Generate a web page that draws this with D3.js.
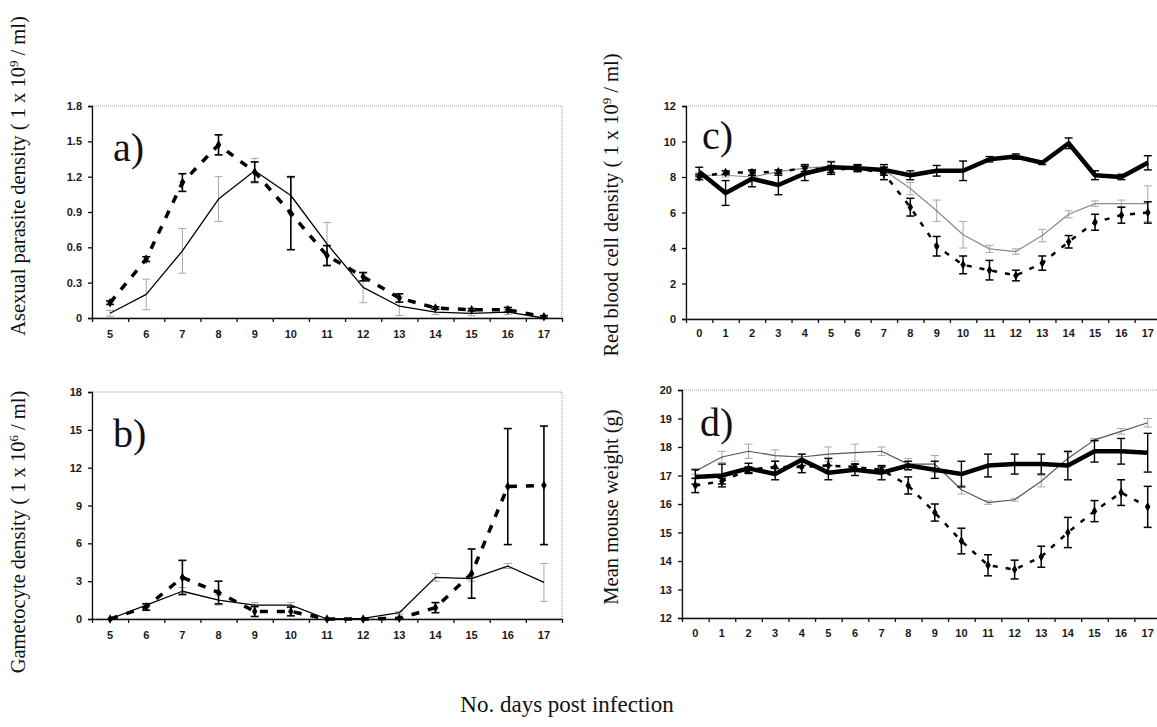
<!DOCTYPE html>
<html>
<head>
<meta charset="utf-8">
<script src="https://cdnjs.cloudflare.com/ajax/libs/d3/7.8.5/d3.min.js"></script>
<style>
  body { margin: 0; background: #fff; }
  svg { display: block; }
  .tick text { font-family: "Liberation Sans", Arial, sans-serif; font-weight: bold; font-size: 11px; fill: #1a1a1a; }
  .title { font-family: "Liberation Serif", "Times New Roman", serif; fill: #111; }
</style>
</head>
<body>
<svg id="fig" width="1157" height="727"></svg>
<script>
// days on the x axis
const daysAB = [5, 6, 7, 8, 9, 10, 11, 12, 13, 14, 15, 16, 17];
const daysCD = [0, 1, 2, 3, 4, 5, 6, 7, 8, 9, 10, 11, 12, 13, 14, 15, 16, 17];

// y tick labels
const aYTicks = [0, 0.3, 0.6, 0.9, 1.2, 1.5, 1.8];
const bYTicks = [0, 3, 6, 9, 12, 15, 18];
const cYTicks = [0, 2, 4, 6, 8, 10, 12];
const dYTicks = [12, 13, 14, 15, 16, 17, 18, 19, 20];

// a) asexual parasite density
const aDashed    = [0.13, 0.50, 1.15, 1.47, 1.24, 0.89, 0.53, 0.35, 0.17, 0.085, 0.07, 0.07, 0.01];
const aDashedErr = [0.015, 0.02, 0.075, 0.085, 0.085, 0.31, 0.085, 0.035, 0.035, 0.01, 0.01, 0.02, 0.01];
const aSolid     = [0.04, 0.20, 0.57, 1.01, 1.25, 1.04, 0.63, 0.26, 0.10, 0.05, 0.04, 0.05, 0.0];
const aSolidErr  = [0.025, 0.13, 0.19, 0.19, 0.105, 0.15, 0.18, 0.13, 0.08, 0.02, 0.02, 0.02, 0.01];

// b) gametocyte density
const bDashed    = [0, 0.95, 3.3, 2.1, 0.6, 0.6, 0, 0, 0.05, 0.9, 3.6, 10.5, 10.6];
const bDashedErr = [0, 0.25, 1.35, 0.9, 0.4, 0.35, 0, 0, 0.05, 0.4, 1.95, 4.6, 4.7];
const bSolid     = [0, 1.1, 2.2, 1.5, 1.1, 1.1, 0, 0.05, 0.5, 3.3, 3.2, 4.2, 2.9];
const bSolidErr  = [0, 0.15, 0.3, 0.4, 0.2, 0.2, 0, 0, 0.1, 0.3, 0.2, 0.2, 1.5];

// c) red blood cell density
const cThick     = [8.3, 7.1, 7.9, 7.55, 8.2, 8.55, 8.5, 8.4, 8.1, 8.35, 8.35, 9.0, 9.15, 8.8, 9.9, 8.1, 8.0, 8.8];
const cThickErr  = [0.25, 0.7, 0.45, 0.55, 0.4, 0.3, 0.2, 0.3, 0.25, 0.3, 0.55, 0.15, 0.15, 0.1, 0.3, 0.25, 0.15, 0.4];
const cThin      = [8.1, 8.1, 8.0, 8.3, 8.5, 8.6, 8.5, 8.4, 7.35, 6.1, 4.75, 3.95, 3.8, 4.7, 5.9, 6.5, 6.5, 6.5];
const cThinErr   = [0.15, 0.1, 0.1, 0.1, 0.15, 0.3, 0.2, 0.2, 0.35, 0.6, 0.75, 0.2, 0.15, 0.35, 0.2, 0.15, 0.2, 1.0];
const cDashed    = [8.0, 8.25, 8.25, 8.3, 8.5, 8.4, 8.5, 8.2, 6.3, 4.1, 3.05, 2.75, 2.45, 3.15, 4.35, 5.45, 5.85, 6.0];
const cDashedErr = [0.15, 0.1, 0.15, 0.1, 0.2, 0.25, 0.15, 0.35, 0.5, 0.55, 0.5, 0.55, 0.3, 0.4, 0.35, 0.45, 0.45, 0.6];

// d) mean mouse weight
const dThick     = [16.95, 17.0, 17.25, 17.05, 17.55, 17.1, 17.2, 17.1, 17.35, 17.2, 17.05, 17.35, 17.4, 17.4, 17.35, 17.85, 17.85, 17.8];
const dThickErr  = [0.25, 0.4, 0.18, 0.2, 0.2, 0.25, 0.2, 0.25, 0.15, 0.3, 0.45, 0.4, 0.35, 0.35, 0.5, 0.38, 0.45, 0.68];
const dThin      = [17.15, 17.65, 17.85, 17.7, 17.65, 17.75, 17.8, 17.85, 17.4, 17.4, 16.5, 16.05, 16.15, 16.8, 17.6, 18.25, 18.55, 18.85];
const dThinErr   = [0.1, 0.2, 0.25, 0.2, 0.1, 0.25, 0.3, 0.15, 0.2, 0.3, 0.15, 0.06, 0.05, 0.2, 0.2, 0.05, 0.1, 0.15];
const dDashed    = [16.65, 16.8, 17.2, 17.3, 17.3, 17.35, 17.3, 17.2, 16.65, 15.7, 14.7, 13.85, 13.7, 14.15, 15.0, 15.75, 16.4, 15.9];
const dDashedErr = [0.25, 0.1, 0.1, 0.2, 0.2, 0.25, 0.1, 0.1, 0.3, 0.3, 0.45, 0.37, 0.33, 0.37, 0.53, 0.37, 0.45, 0.72];

// line styles
const styles = {
  dashedAB: { stroke: "#000", width: 3.5, dash: "8,9", err: "#000", errW: 1.6, marker: true },
  solidAB:  { stroke: "#000", width: 1.3, dash: null, err: "#a8a8a8", errW: 1, marker: false },
  thick:    { stroke: "#000", width: 4.5, dash: null, err: "#000", errW: 1.4, marker: false },
  thinC:    { stroke: "#8a8a8a", width: 1.2, dash: null, err: "#a8a8a8", errW: 1, marker: false },
  thinD:    { stroke: "#555", width: 1.2, dash: null, err: "#a8a8a8", errW: 1, marker: false },
  dashedCD: { stroke: "#000", width: 2.5, dash: "5,8", err: "#000", errW: 1.5, marker: true }
};

const panels = [
  { left: 92, right: 562, top: 106, bottom: 318, days: daysAB, yTicks: aYTicks, fmt: d => d === 0 ? "0" : d.toFixed(1),
    letter: "a)", lx: 113, ly: 161, labelGap: 12,
    series: [[aSolid, aSolidErr, "solidAB"], [aDashed, aDashedErr, "dashedAB"]] },
  { left: 92, right: 562, top: 392, bottom: 619, days: daysAB, yTicks: bYTicks, fmt: d3.format("d"),
    letter: "b)", lx: 113, ly: 447, labelGap: 12,
    series: [[bSolid, bSolidErr, "solidAB"], [bDashed, bDashedErr, "dashedAB"]] },
  { left: 686, right: 1161, top: 106, bottom: 319, days: daysCD, yTicks: cYTicks, fmt: d3.format("d"),
    letter: "c)", lx: 702, ly: 149, labelGap: 10,
    series: [[cThin, cThinErr, "thinC"], [cDashed, cDashedErr, "dashedCD"], [cThick, cThickErr, "thick"]] },
  { left: 682, right: 1161, top: 390, bottom: 618, days: daysCD, yTicks: dYTicks, fmt: d3.format("d"),
    letter: "d)", lx: 700, ly: 436, labelGap: 11,
    series: [[dThin, dThinErr, "thinD"], [dDashed, dDashedErr, "dashedCD"], [dThick, dThickErr, "thick"]] }
];

const svg = d3.select("#fig");

panels.forEach(function(p) {
  const g = svg.append("g");
  const x = d3.scaleBand().domain(p.days).range([p.left, p.right]).padding(0);
  const xEdge = d3.scaleLinear().domain([0, p.days.length]).range([p.left, p.right]);
  const y = d3.scaleLinear().domain([p.yTicks[0], p.yTicks[p.yTicks.length - 1]]).range([p.bottom, p.top]);
  const cx = d => x(d) + x.bandwidth() / 2;

  // light dotted frame
  g.append("rect")
    .attr("x", p.left).attr("y", p.top)
    .attr("width", p.right - p.left).attr("height", p.bottom - p.top)
    .attr("fill", "none").attr("stroke", "#9a9a9a").attr("stroke-width", 1)
    .attr("stroke-dasharray", "1,1");

  // y axis
  g.append("g")
    .attr("transform", "translate(" + p.left + ",0)")
    .call(d3.axisLeft(y).tickValues(p.yTicks).tickFormat(p.fmt).tickSize(4).tickPadding(6))
    .call(s => s.selectAll("line, path").attr("stroke", "#111").attr("stroke-width", 1.3));

  // x axis tick marks between categories
  g.append("g")
    .attr("transform", "translate(0," + p.bottom + ")")
    .call(d3.axisBottom(xEdge).tickValues(d3.range(p.days.length + 1)).tickFormat("").tickSize(4).tickSizeOuter(0))
    .call(s => s.selectAll("line, path").attr("stroke", "#111").attr("stroke-width", 1.3));

  // x axis labels centred in categories
  g.append("g")
    .attr("transform", "translate(0," + p.bottom + ")")
    .call(d3.axisBottom(x).tickSize(0).tickPadding(p.labelGap))
    .call(s => s.select(".domain").remove());

  const line = d3.line().x((d, i) => cx(p.days[i])).y(d => y(d));

  function errorBars(layer, vals, errs, st) {
    const cap = 4;
    vals.forEach(function(v, i) {
      if (errs[i] <= 0) return;
      const xx = cx(p.days[i]);
      const lo = y(v - errs[i]), hi = y(v + errs[i]);
      const eb = layer.append("g").attr("stroke", st.err).attr("stroke-width", st.errW);
      eb.append("line").attr("x1", xx).attr("x2", xx).attr("y1", lo).attr("y2", hi);
      eb.append("line").attr("x1", xx - cap).attr("x2", xx + cap).attr("y1", lo).attr("y2", lo);
      eb.append("line").attr("x1", xx - cap).attr("x2", xx + cap).attr("y1", hi).attr("y2", hi);
    });
  }

  // grey error bars first, then lines, then black bars and markers
  const under = g.append("g");
  const lines = g.append("g");
  const over = g.append("g");

  p.series.forEach(function(s) {
    const vals = s[0], errs = s[1], st = styles[s[2]];
    errorBars(st.err === "#000" ? over : under, vals, errs, st);
    lines.append("path")
      .datum(vals)
      .attr("d", line)
      .attr("fill", "none")
      .attr("stroke", st.stroke)
      .attr("stroke-width", st.width)
      .attr("stroke-linejoin", "round")
      .attr("stroke-dasharray", st.dash);
    if (st.marker) {
      over.selectAll(null)
        .data(vals)
        .enter().append("path")
        .attr("d", d3.symbol(d3.symbolDiamond, 26))
        .attr("transform", (d, i) => "translate(" + cx(p.days[i]) + "," + y(d) + ")")
        .attr("fill", "#000");
    }
  });

  // panel letter
  g.append("text")
    .attr("class", "title")
    .attr("x", p.lx).attr("y", p.ly)
    .attr("font-size", 40)
    .text(p.letter);
});

// axis titles
function yTitle(tx, ty, parts) {
  const t = svg.append("text")
    .attr("class", "title")
    .attr("font-size", 20.5)
    .attr("text-anchor", "middle")
    .attr("transform", "translate(" + tx + "," + ty + ") rotate(-90)");
  parts.forEach(function(pt) {
    const ts = t.append("tspan").text(pt[0]);
    if (pt[1]) ts.attr("baseline-shift", "super").attr("font-size", 13);
  });
}

yTitle(25, 176, [["Asexual parasite density ( 1 x 10"], ["9", true], [" / ml)"]]);
yTitle(25, 532, [["Gametocyte density ( 1 x 10"], ["6", true], [" / ml)"]]);
yTitle(618, 205, [["Red blood cell density ( 1 x 10"], ["9", true], [" / ml)"]]);
yTitle(618, 507, [["Mean mouse weight (g)"]]);

svg.append("text")
  .attr("class", "title")
  .attr("x", 567).attr("y", 712)
  .attr("font-size", 23)
  .attr("text-anchor", "middle")
  .text("No. days post infection");
</script>
</body>
</html>
